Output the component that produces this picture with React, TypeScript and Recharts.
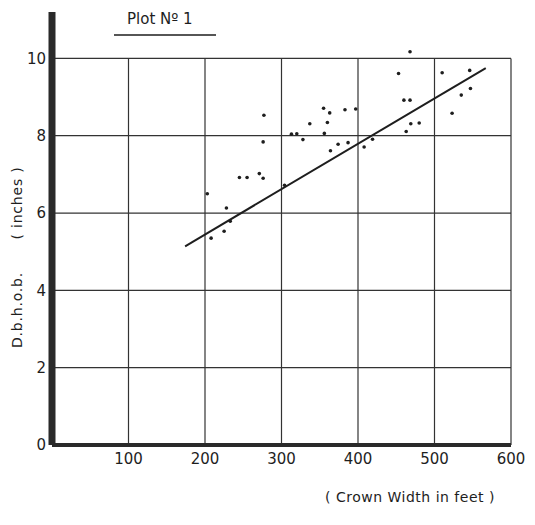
import React from "react";
import {
  ComposedChart,
  Scatter,
  XAxis,
  YAxis,
  ReferenceLine,
  Customized,
} from "recharts";

// Crown width (feet) of each sampled tree
const crownWidth = [
  277, 276, 245, 255, 271, 276, 203, 228, 233, 225, 208, 304, 355, 363, 383,
  397, 337, 360, 313, 320, 356, 328, 364, 374, 387, 408, 419, 460, 468, 469,
  480, 463, 468, 453, 510, 546, 547, 535, 523,
];
// Diameter at breast height over bark (inches)
const dbh = [
  8.53, 7.84, 6.92, 6.92, 7.02, 6.9, 6.5, 6.13, 5.79, 5.53, 5.35, 6.72, 8.71,
  8.59, 8.67, 8.69, 8.31, 8.34, 8.04, 8.05, 8.06, 7.9, 7.61, 7.78, 7.82, 7.71,
  7.91, 8.92, 8.92, 8.31, 8.33, 8.11, 10.17, 9.61, 9.63, 9.69, 9.22, 9.05, 8.58,
];
// Fitted regression line end points
const fitX = [174, 567];
const fitY = [5.14, 9.75];

const xTicks = [100, 200, 300, 400, 500, 600];
const yTicks = [0, 2, 4, 6, 8, 10];
const gridX = [100, 200, 300, 400, 500, 600];
const gridY = [2, 4, 6, 8, 10];

const title = "Plot N\u00BA 1";
const xTitle = "( Crown Width in feet )";
const yTitleA = "D.b.h.o.b.";
const yTitleB = "(  inches  )";

const points = crownWidth.map((x, i) => ({ x, y: dbh[i] }));
const fitLine = fitX.map((x, i) => ({ x, y: fitY[i] }));

const INK = "#1e1e1e";
const FONT = "'DejaVu Sans', sans-serif";

const Dot = (props: any) => {
  const { cx, cy } = props;
  if (cx == null || cy == null) return <g />;
  return <circle cx={cx} cy={cy} r={1.8} fill={INK} />;
};

const Empty = () => <g />;

const Extras = () => (
  <g fontFamily={FONT} fill={INK}>
    <text x={127} y={24} fontSize={15}>
      {title}
    </text>
    <line x1={114} y1={35} x2={216} y2={35} stroke={INK} strokeWidth={1.5} />
    <text
      x={410}
      y={502}
      fontSize={14}
      textAnchor="middle"
      letterSpacing={0.5}
    >
      {xTitle}
    </text>
    <text
      x={22}
      y={310}
      fontSize={14}
      textAnchor="middle"
      letterSpacing={0.8}
      transform="rotate(-90 22 310)"
    >
      {yTitleA}
    </text>
    <text
      x={22}
      y={203}
      fontSize={14}
      textAnchor="middle"
      letterSpacing={0.8}
      transform="rotate(-90 22 203)"
    >
      {yTitleB}
    </text>
  </g>
);

export default function App() {
  return (
    <div style={{ position: "absolute", left: 0, top: 0, background: "#fff" }}>
      <ComposedChart
        width={535}
        height={525}
        margin={{ top: 12, right: 24, bottom: 50, left: 12 }}
      >
        <XAxis
          type="number"
          dataKey="x"
          domain={[0, 600]}
          ticks={xTicks}
          allowDataOverflow
          height={30}
          tickLine={false}
          tickSize={0}
          tickMargin={8}
          axisLine={{ stroke: "#2a2a2a", strokeWidth: 4 }}
          tick={{ fill: INK, fontSize: 15, fontFamily: FONT }}
        />
        <YAxis
          type="number"
          dataKey="y"
          domain={[0, 11.2]}
          ticks={yTicks}
          allowDataOverflow
          width={40}
          tickLine={false}
          tickSize={0}
          tickMargin={6}
          axisLine={{ stroke: "#2a2a2a", strokeWidth: 7 }}
          tick={{ fill: INK, fontSize: 15, fontFamily: FONT }}
        />
        {gridY.map((v) => (
          <ReferenceLine
            key={"gy" + v}
            segment={[
              { x: 0, y: v },
              { x: 600, y: v },
            ]}
            stroke="#333"
            strokeWidth={1.2}
          />
        ))}
        {gridX.map((v) => (
          <ReferenceLine
            key={"gx" + v}
            segment={[
              { x: v, y: 0 },
              { x: v, y: 10 },
            ]}
            stroke="#333"
            strokeWidth={1.2}
          />
        ))}
        <Scatter
          data={fitLine}
          line={{ stroke: INK, strokeWidth: 2 }}
          lineType="joint"
          shape={Empty}
          isAnimationActive={false}
        />
        <Scatter data={points} shape={Dot} isAnimationActive={false} />
        <Customized component={Extras} />
      </ComposedChart>
    </div>
  );
}
